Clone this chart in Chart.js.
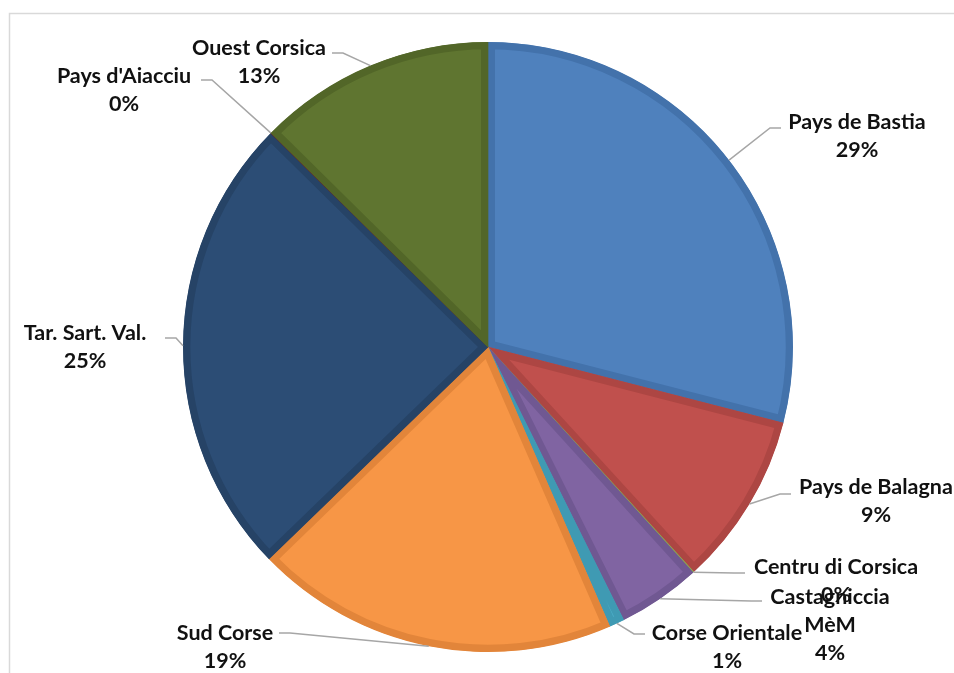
<!DOCTYPE html>
<html>
<head>
<meta charset="utf-8">
<script src="https://cdn.jsdelivr.net/npm/chart.js@4/dist/chart.umd.min.js"></script>
<style>
  html, body { margin: 0; padding: 0; background: #fff; }
  #wrap { width: 954px; height: 673px; position: relative; }
</style>
</head>
<body>
<div id="wrap"><canvas id="id-canva"></canvas></div>
<script>
// donnees (parts en %)
const regions = ["Pays de Bastia", "Pays de Balagna", "Centru di Corsica", "Castagniccia MèM",
  "Corse Orientale", "Sud Corse", "Tar. Sart. Val.", "Pays d'Aiacciu", "Ouest Corsica"];
const parts = [29.0, 9.2, 0.05, 4.4, 0.8, 19.3, 24.6, 0.03, 12.6];

const couleurs = ["#4f81bd", "#c0504d", "#9bbb59", "#8064a2", "#4bacc6", "#f79646", "#2c4d75", "#772c2a", "#5f7530"];
const bords = ["#4372ab", "#ad4643", "#8aa84e", "#705892", "#3f9ab3", "#e2853a", "#264366", "#672522", "#526628"];

// position des etiquettes: centre du texte, lignes, bout du trait
const etiquettes = [
  { x: 857, y: 122, lines: ["Pays de Bastia"], end: [781, 128], dir: -1 },
  { x: 876, y: 487, lines: ["Pays de Balagna"], end: [791, 494], dir: -1 },
  { x: 836, y: 567, lines: ["Centru di Corsica"], end: [745, 573], dir: -1 },
  { x: 830, y: 597, lines: ["Castagniccia", "MèM"], end: [762, 601], dir: -1 },
  { x: 727, y: 633, lines: ["Corse Orientale"], end: [645, 634], dir: -1 },
  { x: 225, y: 633, lines: ["Sud Corse"], end: [279, 633], dir: 1 },
  { x: 85, y: 333, lines: ["Tar. Sart. Val."], end: [165, 338], dir: 1 },
  { x: 124, y: 76, lines: ["Pays d'Aiacciu"], end: [201, 80], dir: 1 },
  { x: 259, y: 48, lines: ["Ouest Corsica"], end: [332, 53], dir: 1 }
];

const total = parts.reduce((a, b) => a + b, 0);

const cadre = {
  id: "cadre",
  beforeDraw(chart) {
    const c = chart.ctx;
    c.save();
    c.strokeStyle = "#d9d9d9";
    c.lineWidth = 1.5;
    c.strokeRect(9.5, 13.5, 1000, 700);
    c.restore();
  }
};

const labelsPlugin = {
  id: "labelsExt",
  afterDatasetsDraw(chart) {
    const c = chart.ctx;
    const arcs = chart.getDatasetMeta(0).data;
    c.save();
    arcs.forEach((arc, i) => {
      const p = arc.getProps(["x", "y", "startAngle", "endAngle", "outerRadius"], true);
      const mid = (p.startAngle + p.endAngle) / 2;
      const ax = p.x + Math.cos(mid) * p.outerRadius;
      const ay = p.y + Math.sin(mid) * p.outerRadius;
      const e = etiquettes[i];
      c.strokeStyle = "#a6a6a6";
      c.lineWidth = 1.5;
      c.beginPath();
      c.moveTo(ax, ay);
      c.lineTo(e.end[0] + e.dir * 11, e.end[1]);
      c.lineTo(e.end[0], e.end[1]);
      c.stroke();
    });
    c.fillStyle = "#111";
    c.font = "bold 21.5px Lato";
    c.textAlign = "center";
    c.textBaseline = "middle";
    arcs.forEach((arc, i) => {
      const e = etiquettes[i];
      const txt = e.lines.concat([Math.round(parts[i] / total * 100) + "%"]);
      txt.forEach((t, k) => c.fillText(t, e.x, e.y + k * 28));
    });
    c.restore();
  }
};

new Chart(document.getElementById("id-canva"), {
  type: "pie",
  data: {
    labels: regions,
    datasets: [{
      data: parts,
      backgroundColor: couleurs,
      borderColor: bords,
      borderWidth: 7,
      borderAlign: "inner"
    }]
  },
  options: {
    responsive: true,
    maintainAspectRatio: false,
    animation: false,
    layout: { padding: { left: 172, right: 150, top: 42, bottom: 21 } },
    plugins: {
      legend: { display: false },
      tooltip: { enabled: false }
    }
  },
  plugins: [cadre, labelsPlugin]
});
</script>
</body>
</html>
